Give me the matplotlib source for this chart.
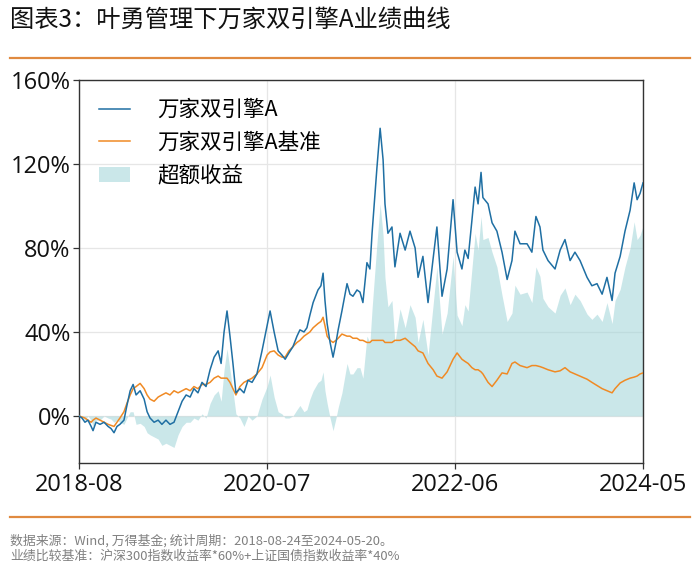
import matplotlib
matplotlib.use("Agg")
import matplotlib.pyplot as plt
import matplotlib.patches as mpatches
from matplotlib.lines import Line2D
import numpy as np
import pandas as pd

plt.rcParams['font.family'] = ['Noto Sans CJK SC', 'DejaVu Sans']

title = "图表3：叶勇管理下万家双引擎A业绩曲线"
footnote1 = "数据来源：Wind, 万得基金; 统计周期：2018-08-24至2024-05-20。"
footnote2 = "业绩比较基准：沪深300指数收益率*60%+上证国债指数收益率*40%"
series_names = ["万家双引擎A", "万家双引擎A基准", "超额收益"]
start_date = "2018-08-24"
end_date = "2024-05-20"
xtick_labels = ["2018-08", "2020-07", "2022-06", "2024-05"]
yticks = [0, 40, 80, 120, 160]

# days since start date
days = [0, 11, 22, 33, 45, 52, 63, 78, 93, 108, 119, 130, 141, 152, 167, 178, 190, 201, 212, 227,
        242, 253, 264, 279, 294, 308, 323, 338, 353, 368, 383, 398, 413, 427, 442, 457, 472, 487, 502, 517,
        528, 539, 550, 561, 572, 583, 598, 613, 628, 643, 661, 680, 699, 710, 725, 740, 754, 766, 780, 795,
        810, 821, 836, 847, 858, 870, 888, 899, 907, 914, 922, 933, 944, 955, 963, 977, 996, 1007, 1018, 1033,
        1044, 1055, 1070, 1081, 1089, 1100, 1107, 1119, 1130, 1137, 1148, 1163, 1174, 1193, 1212, 1230, 1249, 1260, 1278, 1297,
        1316, 1330, 1349, 1368, 1390, 1405, 1423, 1434, 1446, 1460, 1472, 1483, 1494, 1501, 1520, 1535, 1553, 1572, 1591, 1609,
        1620, 1639, 1665, 1683, 1698, 1713, 1724, 1743, 1769, 1788, 1806, 1825, 1843, 1862, 1888, 1906, 1925, 1944, 1962, 1981,
        1992, 2011, 2029, 2048, 2063, 2074, 2085, 2096]

fund = [0, -1, -3, -2, -5, -7, -3, -4, -3, -5, -6, -8, -5, -4, -2, 5, 12, 15, 10, 12,
        8, 2, -1, -3, -2, -4, -2, -4, -3, 2, 7, 10, 9, 13, 11, 16, 14, 22, 28, 31,
        25, 40, 50, 38, 25, 11, 13, 11, 17, 16, 20, 31, 43, 50, 40, 31, 29, 27, 30, 33,
        38, 41, 40, 42, 48, 54, 60, 62, 68, 55, 44, 35, 28, 35, 41, 50, 63, 58, 57, 60,
        59, 54, 73, 70, 87, 106, 118, 137, 122, 101, 87, 90, 71, 87, 79, 88, 80, 66, 76, 54,
        75, 90, 57, 70, 103, 78, 70, 79, 75, 93, 109, 101, 116, 104, 101, 92, 88, 78, 65, 74,
        88, 82, 82, 78, 95, 90, 79, 74, 70, 79, 84, 74, 78, 74, 66, 62, 63, 58, 66, 55,
        68, 76, 88, 98, 111, 103, 106, 111]

bench = [0, -0.5, -1, -2, -3, -2, -1, -2, -3, -4, -4.5, -5, -3, -1, 2, 6, 10, 13, 14, 15.5,
         13, 10, 8, 7, 9, 10, 11, 10, 12, 11, 12, 13, 12, 14, 13, 15, 15, 16, 18, 19,
         18, 18, 18, 16, 13, 10, 14, 16, 17, 18, 20, 23, 29, 30.5, 31, 29, 28, 28, 31, 33,
         35, 36, 38, 39, 40, 42, 44, 45, 47, 43, 38, 36, 35, 36, 37, 39, 38, 38, 37, 37,
         36, 36, 35, 35, 36, 36, 36, 36, 36, 35, 35, 35, 36, 36, 37, 35, 33, 31, 30, 25,
         22, 19, 18, 21, 27, 30, 27, 26, 25, 23, 22, 22, 21, 20, 16, 14, 17, 20.5, 20, 25,
         25.7, 24, 23, 24, 24, 23.5, 23, 22, 21, 21.5, 23, 21, 20, 19, 17.5, 16, 14.5, 13, 12, 11,
         13, 15.7, 17, 18, 18.5, 19, 20, 20.5]

c_fund = '#1f6fa3'
c_bench = '#f08a24'
c_fill = '#9fd4d8'
c_rule = '#e08a40'

dates = pd.Timestamp(start_date) + pd.to_timedelta(days, unit='D')
fund_a = np.array(fund, dtype=float)
bench_a = np.array(bench, dtype=float)
excess = fund_a - bench_a

fig = plt.figure(figsize=(7.0, 5.73), dpi=100)
ax = fig.add_axes([0.1129, 0.192, 0.8057, 0.6684])

ax.fill_between(dates, 0, excess, color=c_fill, alpha=0.55, linewidth=0, zorder=1)
ax.plot(dates, bench_a, color=c_bench, lw=1.1, zorder=3)
ax.plot(dates, fund_a, color=c_fund, lw=1.1, zorder=4)

t0 = pd.Timestamp(start_date)
t1 = pd.Timestamp(end_date)
ax.set_xlim(t0, t1)
ax.set_ylim(-22.4, 160)
tick_pos = [t0 + (t1 - t0) * k / 3 for k in range(4)]
ax.set_xticks(tick_pos)
ax.set_xticklabels(xtick_labels)
ax.set_yticks(yticks)
ax.set_yticklabels([f"{v}%" for v in yticks])
ax.grid(True, color='#e6e6e6', lw=0.9, zorder=0)
ax.set_axisbelow(True)
for s in ax.spines.values():
    s.set_color('#333333')
    s.set_linewidth(1.0)
ax.tick_params(axis='both', length=4, width=0.9, color='#333333', labelsize=17, labelcolor='#111111')
ax.tick_params(axis='x', pad=3)
ax.tick_params(axis='y', pad=2)
for lab in ax.get_xticklabels() + ax.get_yticklabels():
    lab.set_family(['Open Sans', 'DejaVu Sans'])

handles = [Line2D([], [], color=c_fund, lw=1.1),
           Line2D([], [], color=c_bench, lw=1.1),
           mpatches.Patch(facecolor=c_fill, alpha=0.55, edgecolor='none')]
leg = ax.legend(handles, series_names, loc='upper left', frameon=False, fontsize=15.5,
                handlelength=1.45, handletextpad=1.25, labelspacing=0.5,
                borderaxespad=0.4, bbox_to_anchor=(0.005, 0.995))

fig.text(10 / 700, 1 - 20 / 573, title, fontsize=17.5, color='#111111', va='center', ha='left')
fig.add_artist(Line2D([10 / 700, 690 / 700], [1 - 58 / 573, 1 - 58 / 573], color=c_rule, lw=1.6))
fig.add_artist(Line2D([10 / 700, 690 / 700], [1 - 517 / 573, 1 - 517 / 573], color=c_rule, lw=1.6))
fig.text(10 / 700, 1 - 541 / 573, footnote1, fontsize=9.3, color='#808080', va='center', ha='left')
fig.text(10 / 700, 1 - 556 / 573, footnote2, fontsize=9.3, color='#808080', va='center', ha='left')

fig.savefig("out.png", dpi=100)
